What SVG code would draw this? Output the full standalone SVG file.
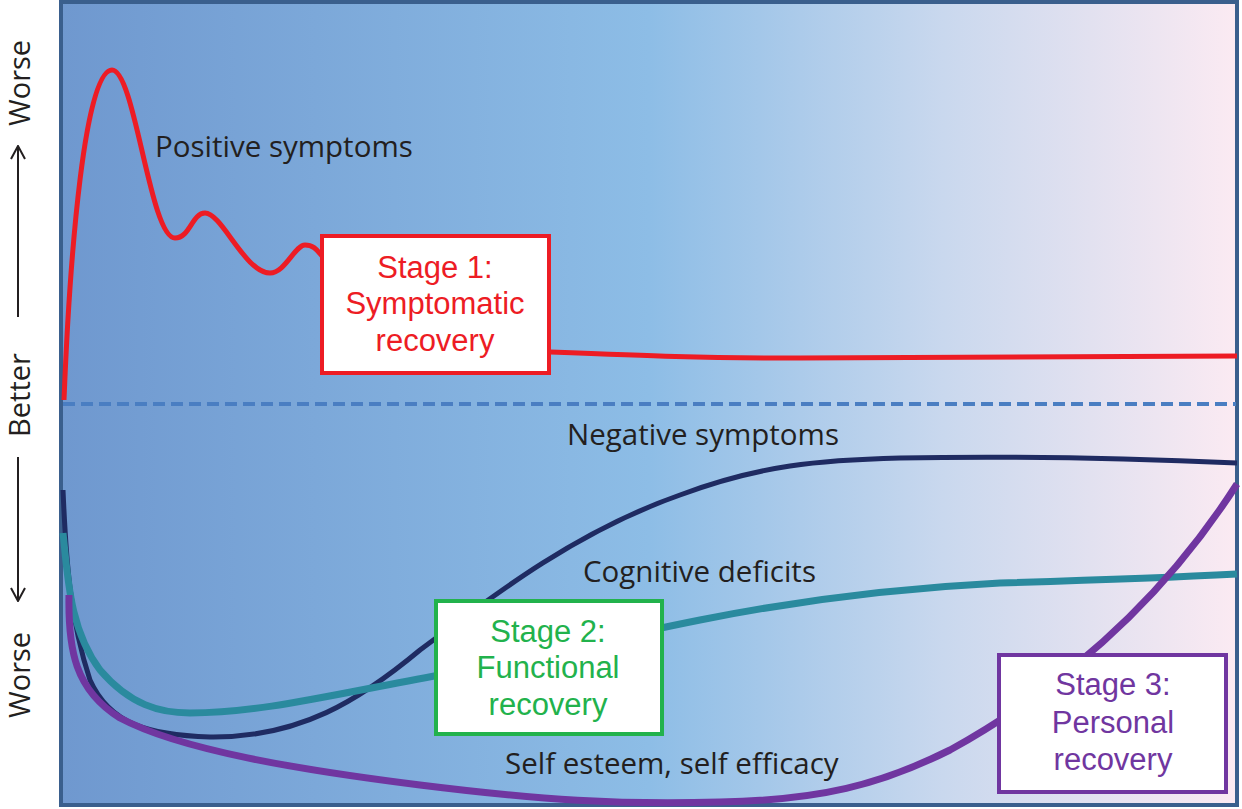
<svg xmlns="http://www.w3.org/2000/svg" width="1242" height="809" viewBox="0 0 1242 809">
<defs>
<linearGradient id="bg" x1="0" y1="0" x2="1" y2="0">
<stop offset="0" stop-color="#6f98cf"/>
<stop offset="0.5" stop-color="#8dbde6"/>
<stop offset="0.75" stop-color="#c9d8ee"/>
<stop offset="1" stop-color="#fbeaf2"/>
</linearGradient>
<marker id="ah" viewBox="0 0 16 16" refX="15" refY="8" markerWidth="16" markerHeight="16" markerUnits="userSpaceOnUse" orient="auto">
<path d="M2,1 L15,8 L2,15" fill="none" stroke="#231f20" stroke-width="2"/>
</marker>
<style>
text{font-family:"Open Sans","Noto Sans","Liberation Sans",sans-serif;}
.lbl{font-size:29.5px;fill:#231f20;}
.ax{font-size:29px;fill:#231f20;}
.st{font-family:"Liberation Sans",Arial,sans-serif;font-size:31px;text-anchor:middle;}
.box{fill:#ffffff;stroke-width:4;}
.curve{fill:none;stroke-linecap:butt;stroke-linejoin:round;}
</style>
</defs>
<rect id="frame" x="61" y="2" width="1176" height="803" fill="url(#bg)" stroke="#3a5f8d" stroke-width="4"/>
<g id="axis">
<text class="ax" transform="translate(30,83) rotate(-90)" text-anchor="middle">Worse</text>
<line x1="18" y1="317" x2="18" y2="146" stroke="#231f20" stroke-width="2" marker-end="url(#ah)"/>
<text class="ax" transform="translate(30,395) rotate(-90)" text-anchor="middle">Better</text>
<line x1="18" y1="457" x2="18" y2="601" stroke="#231f20" stroke-width="2" marker-end="url(#ah)"/>
<text class="ax" transform="translate(30,675) rotate(-90)" text-anchor="middle">Worse</text>
</g>
<g id="connectors">
<line id="baseline" x1="63" y1="404" x2="1236" y2="404" stroke="#4a7ec2" stroke-width="4" stroke-dasharray="12,6"/>
<path id="positive" class="curve" stroke="#ed1c24" stroke-width="5" d="M64,400 C 70,250 85,70 112,70 C 135,70 150,238 175,238 C 190,238 192,213 205,213 C 222,213 245,273 270,273 C 285,273 295,245 305,245 C 315,245 318,252 324,258 C 420,340 470,350 549,352 C 650,356 700,358 800,358 L 1237,356"/>
<path id="negative" class="curve" stroke="#1f2b62" stroke-width="5" d="M63,490 C 66,560 70,620 90,680 C 110,725 150,735 210,737 C 300,738 360,700 420,650 C 500,590 580,530 680,495 C 760,465 820,460 900,458 C 1000,456 1100,457 1237,463"/>
<path id="cognitive" class="curve" stroke="#2a8a9e" stroke-width="7" d="M63,533 C 68,580 70,630 100,670 C 130,705 160,713 190,713 C 260,713 330,695 440,675 C 520,660 600,640 700,620 C 800,600 900,588 1000,583 C 1100,580 1180,577 1237,574"/>
<path id="selfesteem" class="curve" stroke="#7036a0" stroke-width="7" d="M69,595 C 68,650 75,690 120,718 C 180,750 300,770 420,785 C 540,800 620,805 720,802 C 820,800 880,785 950,750 C 1040,700 1150,620 1237,484"/>
</g>
<g id="labels">
<text class="lbl" x="155" y="157">Positive symptoms</text>
<text class="lbl" x="567" y="445">Negative symptoms</text>
<text class="lbl" x="583" y="582">Cognitive deficits</text>
<text class="lbl" x="505" y="774">Self esteem, self efficacy</text>
</g>
<g id="stage1">
<rect class="box" x="322" y="236" width="227" height="137" stroke="#ed1c24"/>
<text class="st" fill="#ed1c24"><tspan x="435" y="278">Stage 1:</tspan><tspan x="435" y="314">Symptomatic</tspan><tspan x="435" y="351">recovery</tspan></text>
</g>
<g id="stage2">
<rect class="box" x="436" y="601" width="226" height="133" stroke="#22b24c"/>
<text class="st" fill="#22b24c"><tspan x="548" y="642">Stage 2:</tspan><tspan x="548" y="678">Functional</tspan><tspan x="548" y="715">recovery</tspan></text>
</g>
<g id="stage3">
<rect class="box" x="999" y="655" width="227" height="137" stroke="#7036a0"/>
<text class="st" fill="#7036a0"><tspan x="1113" y="695">Stage 3:</tspan><tspan x="1113" y="733">Personal</tspan><tspan x="1113" y="770">recovery</tspan></text>
</g>
</svg>
